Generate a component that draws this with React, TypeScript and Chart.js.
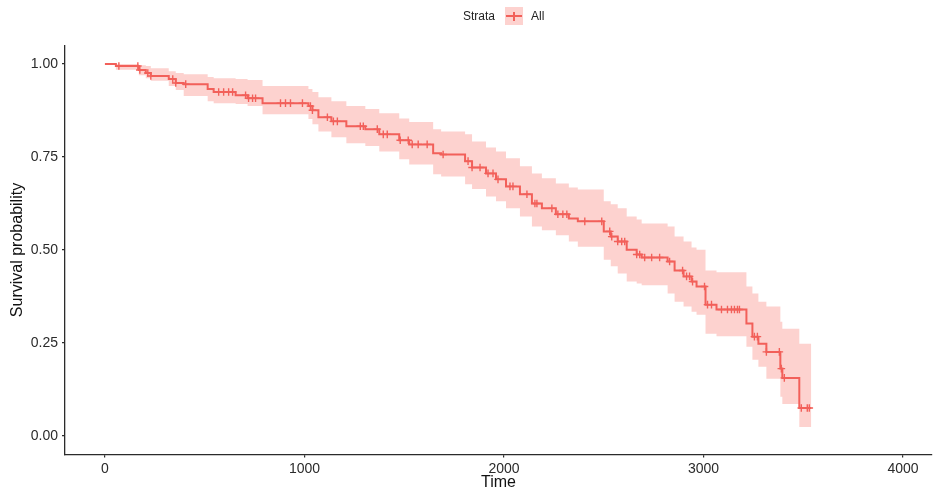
import React, { useEffect, useRef } from 'react';
import { Chart, registerables } from 'chart.js';
Chart.register(...registerables);

// Kaplan-Meier step times and estimates
const times = [0, 55, 170, 205, 230, 320, 355, 395, 515, 545, 655, 715, 790, 1020, 1040, 1070, 1135, 1210, 1305, 1375, 1475, 1525, 1645, 1685, 1805, 1840, 1910, 1960, 2010, 2080, 2140, 2190, 2260, 2325, 2370, 2500, 2535, 2570, 2615, 2665, 2690, 2820, 2855, 2900, 2940, 2965, 3010, 3065, 3215, 3245, 3275, 3315, 3385, 3395, 3480];
const survival = [1.000, 0.995, 0.984, 0.976, 0.968, 0.960, 0.949, 0.946, 0.933, 0.925, 0.916, 0.908, 0.895, 0.887, 0.876, 0.857, 0.846, 0.833, 0.825, 0.811, 0.795, 0.784, 0.760, 0.757, 0.739, 0.722, 0.706, 0.690, 0.671, 0.650, 0.625, 0.612, 0.596, 0.585, 0.577, 0.550, 0.536, 0.523, 0.501, 0.488, 0.480, 0.469, 0.445, 0.429, 0.415, 0.402, 0.353, 0.340, 0.302, 0.267, 0.248, 0.226, 0.181, 0.156, 0.075];
const upperCI = [1.000, 1.000, 0.997, 0.995, 0.989, 0.981, 0.976, 0.973, 0.965, 0.962, 0.960, 0.957, 0.941, 0.933, 0.925, 0.911, 0.900, 0.887, 0.879, 0.868, 0.854, 0.844, 0.825, 0.819, 0.811, 0.792, 0.776, 0.765, 0.747, 0.725, 0.706, 0.693, 0.679, 0.668, 0.663, 0.631, 0.623, 0.612, 0.590, 0.582, 0.571, 0.563, 0.536, 0.523, 0.507, 0.501, 0.445, 0.440, 0.402, 0.383, 0.361, 0.348, 0.307, 0.288, 0.248];
const lowerCI = [1.000, 0.985, 0.970, 0.962, 0.955, 0.941, 0.930, 0.914, 0.900, 0.895, 0.893, 0.887, 0.865, 0.852, 0.838, 0.819, 0.803, 0.787, 0.780, 0.765, 0.744, 0.730, 0.704, 0.698, 0.677, 0.664, 0.644, 0.631, 0.612, 0.590, 0.563, 0.553, 0.540, 0.523, 0.509, 0.474, 0.456, 0.437, 0.415, 0.410, 0.405, 0.383, 0.361, 0.348, 0.334, 0.326, 0.275, 0.268, 0.240, 0.205, 0.186, 0.154, 0.105, 0.086, 0.024];
const lastTime = 3540;
const censorTimes = [70, 165, 175, 215, 230, 340, 355, 405, 570, 595, 620, 640, 705, 720, 740, 755, 880, 905, 930, 990, 1030, 1040, 1115, 1145, 1165, 1280, 1295, 1365, 1395, 1415, 1480, 1520, 1540, 1570, 1615, 1695, 1820, 1840, 1880, 1920, 1945, 1970, 2030, 2045, 2115, 2155, 2165, 2240, 2270, 2295, 2315, 2405, 2490, 2530, 2540, 2570, 2590, 2605, 2665, 2680, 2705, 2740, 2780, 2830, 2895, 2915, 2930, 2945, 3005, 3020, 3040, 3090, 3120, 3140, 3155, 3170, 3180, 3255, 3270, 3315, 3380, 3390, 3405, 3490, 3520, 3530];
const xTicks = [0, 1000, 2000, 3000, 4000];
const yTicks = [0, 0.25, 0.5, 0.75, 1];
const strataTitle = 'Strata';
const groupLabel = 'All';

const LINE = '#F2605A';
const BAND = 'rgba(248,118,109,0.33)';
const AXIS = '#2b2b2b';
const FONT = '"Liberation Sans", Arial, Helvetica, sans-serif';

function stepValue(t: number): number {
  let v = survival[0];
  for (let i = 0; i < times.length; i++) if (times[i] <= t) v = survival[i];
  return v;
}

function toPoints(vals: number[]) {
  const pts = times.map((t, i) => ({ x: t, y: vals[i] }));
  pts.push({ x: lastTime, y: vals[vals.length - 1] });
  return pts;
}

export default function App() {
  const ref = useRef<HTMLCanvasElement | null>(null);
  useEffect(() => {
    document.body.style.margin = '0';
    if (!ref.current) return;
    const chart = new Chart(ref.current, {
      type: 'line',
      data: {
        datasets: [
          {
            type: 'scatter',
            label: 'censor',
            data: censorTimes.map((t) => ({ x: t, y: stepValue(t) })),
            pointStyle: 'cross',
            pointRadius: 3.8,
            borderColor: LINE,
            backgroundColor: LINE,
            borderWidth: 1.4,
            showLine: false,
          } as any,
          {
            label: groupLabel,
            data: toPoints(survival),
            stepped: true,
            borderColor: LINE,
            borderWidth: 2,
            pointRadius: 0,
            fill: false,
          },
          {
            label: 'upper',
            data: toPoints(upperCI),
            stepped: true,
            borderWidth: 0,
            borderColor: 'rgba(0,0,0,0)',
            pointRadius: 0,
            fill: '+1',
            backgroundColor: BAND,
          },
          {
            label: 'lower',
            data: toPoints(lowerCI),
            stepped: true,
            borderWidth: 0,
            borderColor: 'rgba(0,0,0,0)',
            pointRadius: 0,
            fill: false,
          },
        ],
      },
      options: {
        animation: false,
        responsive: false,
        maintainAspectRatio: false,
        layout: { autoPadding: false, padding: { top: 45.5, right: 1, left: 0, bottom: 0 } },
        plugins: { legend: { display: false }, tooltip: { enabled: false } },
        scales: {
          x: {
            type: 'linear',
            min: -200,
            max: 4145,
            afterBuildTicks: (s: any) => { s.ticks = xTicks.map((v) => ({ value: v })); },
            afterFit: (s: any) => { s.height = 33.5; s.paddingLeft = 0; s.paddingRight = 0; },
            grid: { display: true, drawOnChartArea: false, drawTicks: true, tickLength: 3, color: AXIS, lineWidth: 1.2 },
            border: { display: true, color: AXIS, width: 1.3 },
            ticks: { color: AXIS, font: { family: FONT, size: 14 }, padding: 3, maxRotation: 0, autoSkip: false, callback: (v: any) => String(v) },
            title: { display: true, text: 'Time', color: '#111', font: { family: FONT, size: 16, lineHeight: 1 }, padding: { top: 0, bottom: -3 } },
          },
          y: {
            type: 'linear',
            min: -0.05,
            max: 1.05,
            afterBuildTicks: (s: any) => { s.ticks = yTicks.map((v) => ({ value: v })); },
            afterFit: (s: any) => { s.width = 65; s.paddingTop = 0; s.paddingBottom = 0; },
            grid: { display: true, drawOnChartArea: false, drawTicks: true, tickLength: 3, color: AXIS, lineWidth: 1.2 },
            border: { display: true, color: AXIS, width: 1.3 },
            ticks: { color: AXIS, font: { family: FONT, size: 14 }, padding: 4, autoSkip: false, callback: (v: any) => Number(v).toFixed(2) },
            title: { display: true, text: 'Survival probability', color: '#111', font: { family: FONT, size: 16, lineHeight: 1 }, padding: { top: 10, bottom: 0 } },
          },
        },
      },
    });
    return () => chart.destroy();
  }, []);

  return (
    <div style={{ position: 'relative', width: 933, height: 488, background: '#fff', fontFamily: FONT }}>
      <canvas ref={ref} width={933} height={488} style={{ display: 'block', width: 933, height: 488 }} />
      <div style={{ position: 'absolute', left: 463, top: 9, fontSize: 12, lineHeight: '14px', color: '#222' }}>{strataTitle}</div>
      <div style={{ position: 'absolute', left: 505, top: 7, width: 18, height: 18, background: BAND }}>
        <div style={{ position: 'absolute', left: 1, top: 8, width: 16, height: 2, background: LINE }} />
        <div style={{ position: 'absolute', left: 8.3, top: 4.5, width: 1.5, height: 9, background: LINE }} />
      </div>
      <div style={{ position: 'absolute', left: 531, top: 9, fontSize: 12, lineHeight: '14px', color: '#222' }}>{groupLabel}</div>
    </div>
  );
}
